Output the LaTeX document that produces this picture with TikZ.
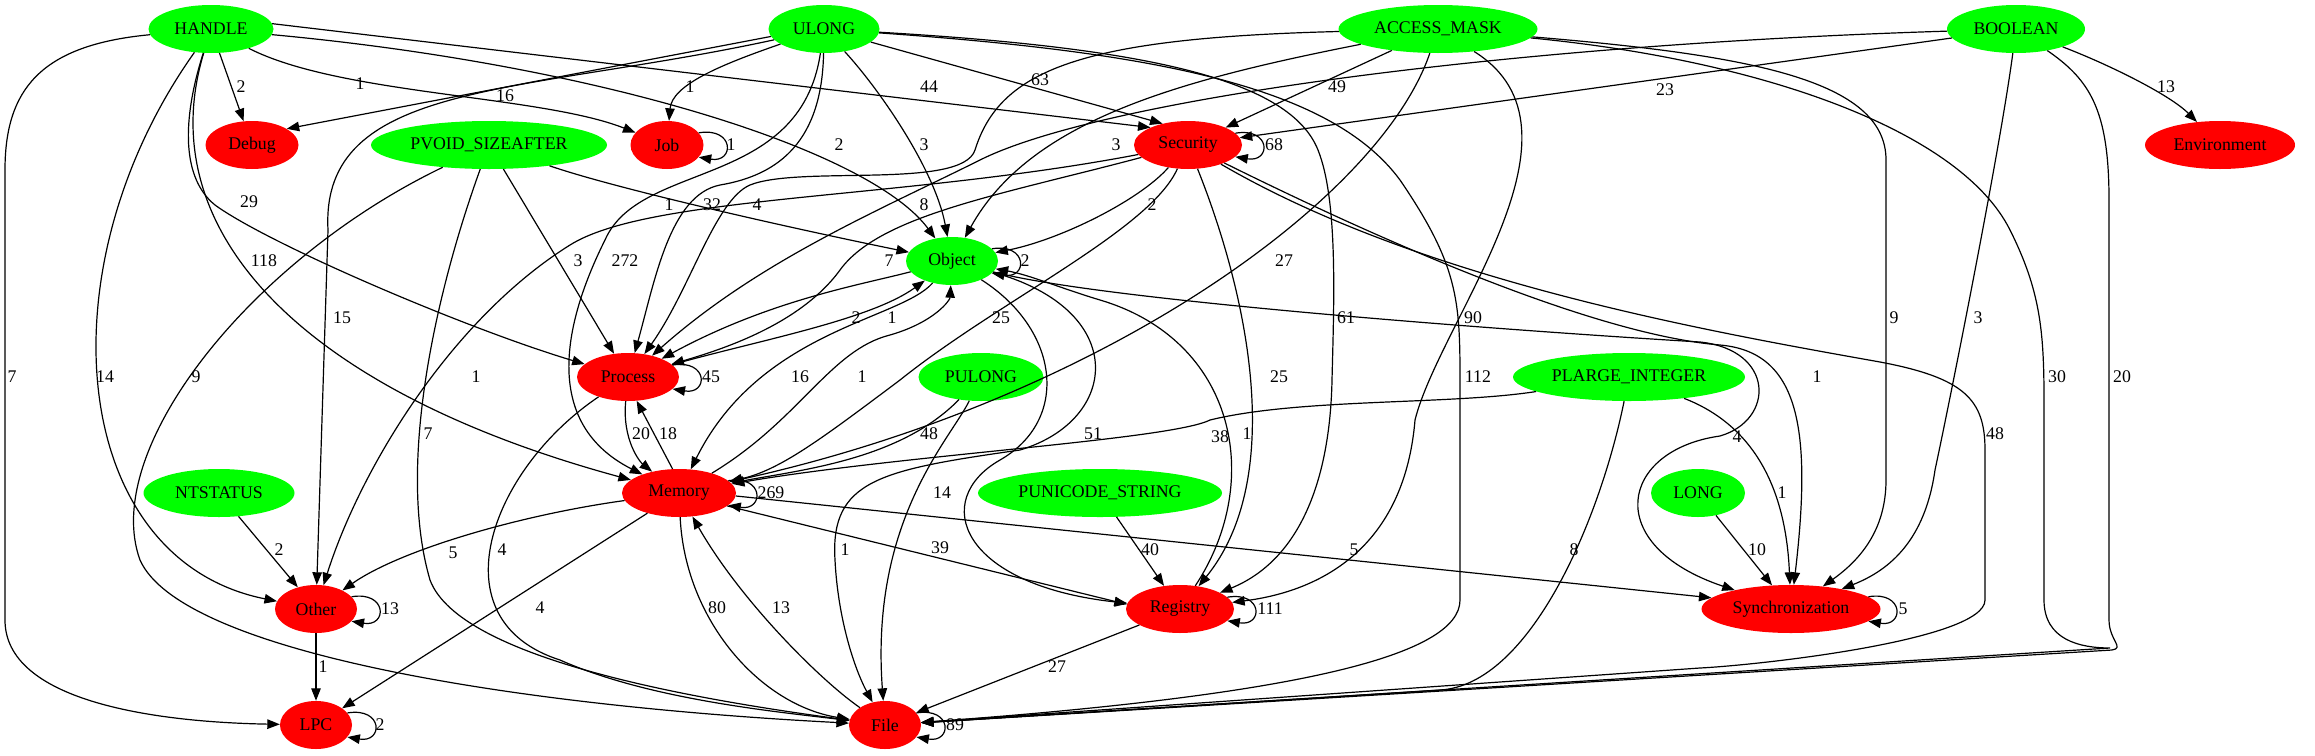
\documentclass[tikz,border=0pt]{standalone}
\usepackage{fontspec}
\setmainfont{Liberation Serif}
\usetikzlibrary{arrows.meta,shapes.geometric,positioning}
\definecolor{typgreen}{RGB}{0,255,0}
\definecolor{catred}{RGB}{255,0,0}
\newcommand{\gvfont}{\fontsize{17.8}{20}\selectfont}
\tikzset{
    flow/.style={-{Triangle[length=12.5pt, width=9.5pt]}, line width=1.2pt, black},
    typ/.style={ellipse, fill=typgreen, minimum height=48pt, minimum width=#1, inner sep=0pt, font=\gvfont},
    cat/.style={ellipse, fill=catred, minimum height=48pt, minimum width=#1, inner sep=0pt, font=\gvfont},
    cnt/.style={font=\gvfont, inner sep=0pt}
}
\begin{document}
\begin{tikzpicture}[x=1pt, y=-1pt]
\useasboundingbox (0,0) rectangle (2315,755);
% parameter types
\node[typ=125pt] (HANDLE) at (211,29) {HANDLE};
\node[typ=111pt] (ULONG) at (824,29) {ULONG};
\node[typ=199pt] (ACCESSMASK) at (1438,29) {ACCESS\_MASK};
\node[typ=138pt] (BOOLEAN) at (2016,29) {BOOLEAN};
\node[typ=236pt] (PVOID) at (489,145) {PVOID\_SIZEAFTER};
\node[typ=92pt] (Object) at (952,261) {Object};
\node[typ=125pt] (PULONG) at (981,377) {PULONG};
\node[typ=232pt] (PLARGE) at (1629,377) {PLARGE\_INTEGER};
\node[typ=151pt] (NTSTATUS) at (219,493) {NTSTATUS};
\node[typ=244pt] (PUNICODE) at (1100,493) {PUNICODE\_STRING};
\node[typ=94pt] (LONG) at (1698,493) {LONG};
% categories
\node[cat=93pt] (Debug) at (252,145) {Debug};
\node[cat=73pt] (Job) at (667,145) {Job};
\node[cat=108pt] (Security) at (1188,145) {Security};
\node[cat=150pt] (Environment) at (2220,145) {Environment};
\node[cat=102pt] (Process) at (628,377) {Process};
\node[cat=114pt] (Memory) at (679,493) {Memory};
\node[cat=82pt] (Other) at (316,609) {Other};
\node[cat=108pt] (Registry) at (1180,609) {Registry};
\node[cat=179pt] (Sync) at (1791,609) {Synchronization};
\node[cat=72pt] (LPC) at (316,725) {LPC};
\node[cat=72pt] (File) at (885,725) {File};

% HANDLE
\draw[flow] (HANDLE) -- (Debug) node[cnt] (c1) at (241,87) {2};
\draw[flow] (HANDLE) .. controls (340,95) and (540,95) .. (Job) node[cnt] (c2) at (360,84) {1};
\draw[flow] (HANDLE.5) -- (Security.155) node[cnt] (c3) at (929,87) {44};
\draw[flow] (HANDLE) .. controls (600,65) and (870,150) .. (Object) node[cnt] (c4) at (839,145) {2};
\draw[flow] (HANDLE) .. controls (185,110) and (178,175) .. (215,205) .. controls (270,245) and (470,330) .. (Process) node[cnt] (c5) at (249,202) {29};
\draw[flow] (HANDLE) .. controls (150,230) and (300,390) .. (Memory) node[cnt] (c6) at (264,261) {118};
\draw[flow] (HANDLE) .. controls (40,270) and (70,560) .. (Other) node[cnt] (c7) at (105,377) {14};
\draw[flow] (HANDLE) .. controls (40,45) and (5,90) .. (5,170) -- (5,620) .. controls (5,700) and (150,722) .. (LPC) node[cnt] (c8) at (12,377) {7};

% ULONG
\draw[flow] (ULONG.188) -- (Debug.25) node[cnt] (c9) at (505,96) {16};
\draw[flow] (ULONG) .. controls (520,95) and (320,80) .. (328,230) -- (Other) node[cnt] (c10) at (342,318) {15};
\draw[flow] (ULONG) .. controls (720,65) and (672,85) .. (Job) node[cnt] (c11) at (690,87) {1};
\draw[flow] (ULONG) -- (Security.140) node[cnt] (c12) at (1040,80) {63};
\draw[flow] (ULONG) .. controls (880,90) and (935,170) .. (Object) node[cnt] (c13) at (924,145) {3};
\draw[flow] (ULONG) .. controls (800,190) and (640,160) .. (605,240) .. controls (570,310) and (535,420) .. (Memory) node[cnt] (c14) at (625,261) {272};
\draw[flow] (ULONG) .. controls (822,140) and (780,175) .. (720,185) .. controls (670,195) and (655,280) .. (Process) node[cnt] (c15) at (712,205) {32};
\draw[flow] (ULONG) .. controls (1150,48) and (1290,80) .. (1318,150) .. controls (1338,200) and (1334,300) .. (1332,380) .. controls (1330,480) and (1300,560) .. (Registry) node[cnt] (c16) at (1346,318) {61};
\draw[flow] (ULONG) .. controls (1150,52) and (1330,85) .. (1400,180) .. controls (1458,265) and (1460,300) .. (1460,380) -- (1460,600) .. controls (1460,655) and (1300,695) .. (File) node[cnt] (c17) at (1478,377) {112};

% ACCESS_MASK
\draw[flow] (ACCESSMASK) -- (Security) node[cnt] (c18) at (1337,87) {49};
\draw[flow] (ACCESSMASK) .. controls (1180,80) and (1030,120) .. (Object) node[cnt] (c19) at (1116,145) {3};
\draw[flow] (ACCESSMASK) .. controls (1080,38) and (1000,70) .. (975,150) .. controls (962,190) and (800,165) .. (750,185) .. controls (715,200) and (690,290) .. (Process) node[cnt] (c20) at (757,205) {4};
\draw[flow] (ACCESSMASK) .. controls (1380,200) and (1100,400) .. (Memory) node[cnt] (c21) at (1284,261) {27};
\draw[flow] (ACCESSMASK) .. controls (1600,130) and (1440,320) .. (1415,420) .. controls (1405,540) and (1330,590) .. (Registry) node[cnt] (c22) at (1473,318) {90};
\draw[flow] (ACCESSMASK) .. controls (1750,55) and (1886,80) .. (1886,160) -- (1886,480) .. controls (1886,530) and (1860,560) .. (Sync) node[cnt] (c23) at (1894,318) {9};
\draw[flow] (ACCESSMASK) .. controls (1760,60) and (1960,130) .. (2010,230) .. controls (2040,290) and (2044,330) .. (2044,400) -- (2044,600) .. controls (2044,640) and (2080,648) .. (2110,648) -- (File) node[cnt] (c24) at (2057,377) {30};

% BOOLEAN
\draw[flow] (BOOLEAN) -- (Security) node[cnt] (c25) at (1665,90) {23};
\draw[flow] (BOOLEAN) .. controls (1500,45) and (1100,100) .. (980,160) .. controls (880,210) and (760,260) .. (Process) node[cnt] (c26) at (924,205) {8};
\draw[flow] (BOOLEAN) .. controls (2000,150) and (1950,400) .. (1935,470) .. controls (1925,540) and (1890,570) .. (Sync) node[cnt] (c27) at (1978,318) {3};
\draw[flow] (BOOLEAN) .. controls (2090,80) and (2109,110) .. (2109,200) -- (2109,620) .. controls (2109,640) and (2125,648) .. (2112,650) -- (File) node[cnt] (c28) at (2122,377) {20};
\draw[flow] (BOOLEAN) .. controls (2110,65) and (2170,95) .. (Environment) node[cnt] (c29) at (2166,87) {13};

% PVOID_SIZEAFTER
\draw[flow] (PVOID) .. controls (620,190) and (800,230) .. (Object) node[cnt] (c30) at (669,205) {1};
\draw[flow] (PVOID) -- (Process) node[cnt] (c31) at (578,261) {3};
\draw[flow] (PVOID) .. controls (440,280) and (395,460) .. (430,580) .. controls (460,660) and (700,700) .. (File) node[cnt] (c32) at (428,434) {7};
\draw[flow] (PVOID) .. controls (250,260) and (100,450) .. (140,560) .. controls (180,650) and (500,705) .. (File) node[cnt] (c33) at (196,377) {9};

% other types
\draw[flow] (NTSTATUS) -- (Other) node[cnt] (c34) at (279,550) {2};
\draw[flow] (PULONG) .. controls (900,460) and (800,470) .. (Memory) node[cnt] (c35) at (929,434) {48};
\draw[flow] (PULONG) .. controls (950,440) and (870,520) .. (File) node[cnt] (c36) at (942,493) {14};
\draw[flow] (PUNICODE) -- (Registry) node[cnt] (c37) at (1150,550) {40};
\draw[flow] (PLARGE) .. controls (1450,405) and (1300,398) .. (1210,420) .. controls (1170,440) and (900,455) .. (Memory) node[cnt] (c38) at (1220,437) {38};
\draw[flow] (PLARGE) .. controls (1740,420) and (1785,470) .. (Sync) node[cnt] (c39) at (1782,493) {1};
\draw[flow] (PLARGE) .. controls (1600,520) and (1530,685) .. (1440,690) -- (File) node[cnt] (c40) at (1574,550) {8};
\draw[flow] (LONG) -- (Sync) node[cnt] (c41) at (1757,550) {10};

% Process and Memory
\draw[flow] (Process) .. controls (622,440) and (640,462) .. (Memory) node[cnt] (c42) at (641,434) {20};
\draw[flow] (Memory.105) -- (Process.-70) node[cnt] (c43) at (668,434) {18};
\draw[flow] (Process) .. controls (490,470) and (435,620) .. (560,660) .. controls (650,700) and (780,712) .. (File) node[cnt] (c44) at (502,550) {4};
\draw[flow] (Memory) .. controls (520,515) and (400,550) .. (Other) node[cnt] (c45) at (453,553) {5};
\draw[flow] (Memory) -- (LPC) node[cnt] (c46) at (540,608) {4};
\draw[flow] (Memory) .. controls (685,620) and (760,705) .. (File) node[cnt] (c47) at (717,608) {80};
\draw[flow] (File) .. controls (820,680) and (740,600) .. (Memory) node[cnt] (c48) at (781,608) {13};
\draw[flow] (Memory.-15) -- (Registry.175) node[cnt] (c49) at (940,548) {39};
\draw[flow] (Memory.-3) -- (Sync.172) node[cnt] (c50) at (1354,550) {5};

% Object
\draw[flow] (Object) .. controls (900,320) and (760,330) .. (Memory) node[cnt] (c51) at (800,377) {16};
\draw[flow] (Memory) .. controls (800,420) and (830,350) .. (890,335) .. controls (935,322) and (950,300) .. (Object) node[cnt] (c52) at (862,377) {1};
\draw[flow] (Process) .. controls (760,340) and (870,320) .. (Object) node[cnt] (c53) at (892,318) {1};
\draw[flow] (Object) .. controls (860,285) and (770,300) .. (Process) node[cnt] (c54) at (856,318) {2};
\draw[flow] (Object) .. controls (1060,330) and (1070,420) .. (1000,460) .. controls (930,500) and (960,585) .. (Registry) node[cnt] (c55) at (1093,434) {51};
\draw[flow] (Object) .. controls (1130,310) and (1120,420) .. (1020,450) .. controls (880,470) and (830,480) .. (835,560) .. controls (838,620) and (855,670) .. (File) node[cnt] (c56) at (845,550) {1};
\draw[flow] (Object) .. controls (1100,300) and (1500,330) .. (1700,342) .. controls (1775,350) and (1775,420) .. (1720,436) .. controls (1620,450) and (1600,545) .. (Sync) node[cnt] (c57) at (1737,437) {4};
\draw[flow] (Registry) .. controls (1265,480) and (1235,340) .. (1100,300) .. controls (1060,288) and (1030,275) .. (Object) node[cnt] (c58) at (1247,434) {1};
\draw[flow] (Registry) -- (File) node[cnt] (c59) at (1057,667) {27};

% Security
\draw[flow] (Security) .. controls (1140,200) and (1060,240) .. (Object) node[cnt] (c60) at (1152,205) {2};
\draw[flow] (Security) .. controls (1000,195) and (880,215) .. (840,270) .. controls (800,325) and (720,350) .. (Process) node[cnt] (c61) at (889,261) {7};
\draw[flow] (Security) .. controls (900,200) and (650,195) .. (570,245) .. controls (450,320) and (360,470) .. (Other) node[cnt] (c62) at (476,377) {1};
\draw[flow] (Security) .. controls (1150,230) and (1000,300) .. (900,380) .. controls (820,440) and (780,470) .. (Memory) node[cnt] (c63) at (1001,318) {25};
\draw[flow] (Security) .. controls (1250,300) and (1285,480) .. (Registry) node[cnt] (c64) at (1279,377) {25};
\draw[flow] (Security) .. controls (1400,250) and (1600,335) .. (1720,345) .. controls (1800,352) and (1812,430) .. (Sync) node[cnt] (c65) at (1817,377) {1};
\draw[flow] (Security) .. controls (1420,280) and (1700,330) .. (1880,362) .. controls (1965,378) and (1985,400) .. (1985,450) -- (1985,600) .. controls (1985,640) and (1760,665) .. (1700,668) -- (File) node[cnt] (c66) at (1995,434) {48};

% self loops
\draw[flow] (Job.21) .. controls +(36,-6) and +(36,6) .. (Job.-21) node[cnt] (c67) at (731,145) {1};
\draw[flow] (Security.14) .. controls +(36,-6) and +(36,6) .. (Security.-14) node[cnt] (c68) at (1274,145) {68};
\draw[flow] (Object.17) .. controls +(36,-6) and +(36,6) .. (Object.-17) node[cnt] (c69) at (1025,261) {2};
\draw[flow] (Process.15) .. controls +(36,-6) and +(36,6) .. (Process.-15) node[cnt] (c70) at (711,377) {45};
\draw[flow] (Memory.14) .. controls +(36,-6) and +(36,6) .. (Memory.-14) node[cnt] (c71) at (771,493) {269};
\draw[flow] (Registry.14) .. controls +(36,-6) and +(36,6) .. (Registry.-14) node[cnt] (c72) at (1270,609) {111};
\draw[flow] (Sync.9) .. controls +(36,-6) and +(36,6) .. (Sync.-9) node[cnt] (c73) at (1903,609) {5};
\draw[flow] (Other.19) .. controls +(36,-6) and +(36,6) .. (Other.-19) node[cnt] (c74) at (390,609) {13};
\draw[flow] (LPC.21) .. controls +(36,-6) and +(36,6) .. (LPC.-21) node[cnt] (c75) at (380,725) {2};
\draw[flow] (File.21) .. controls +(36,-6) and +(36,6) .. (File.-21) node[cnt] (c76) at (955,725) {89};
\draw[flow] (Other) -- (LPC) node[cnt] (c77) at (323,667) {1};
\end{tikzpicture}
\end{document}
